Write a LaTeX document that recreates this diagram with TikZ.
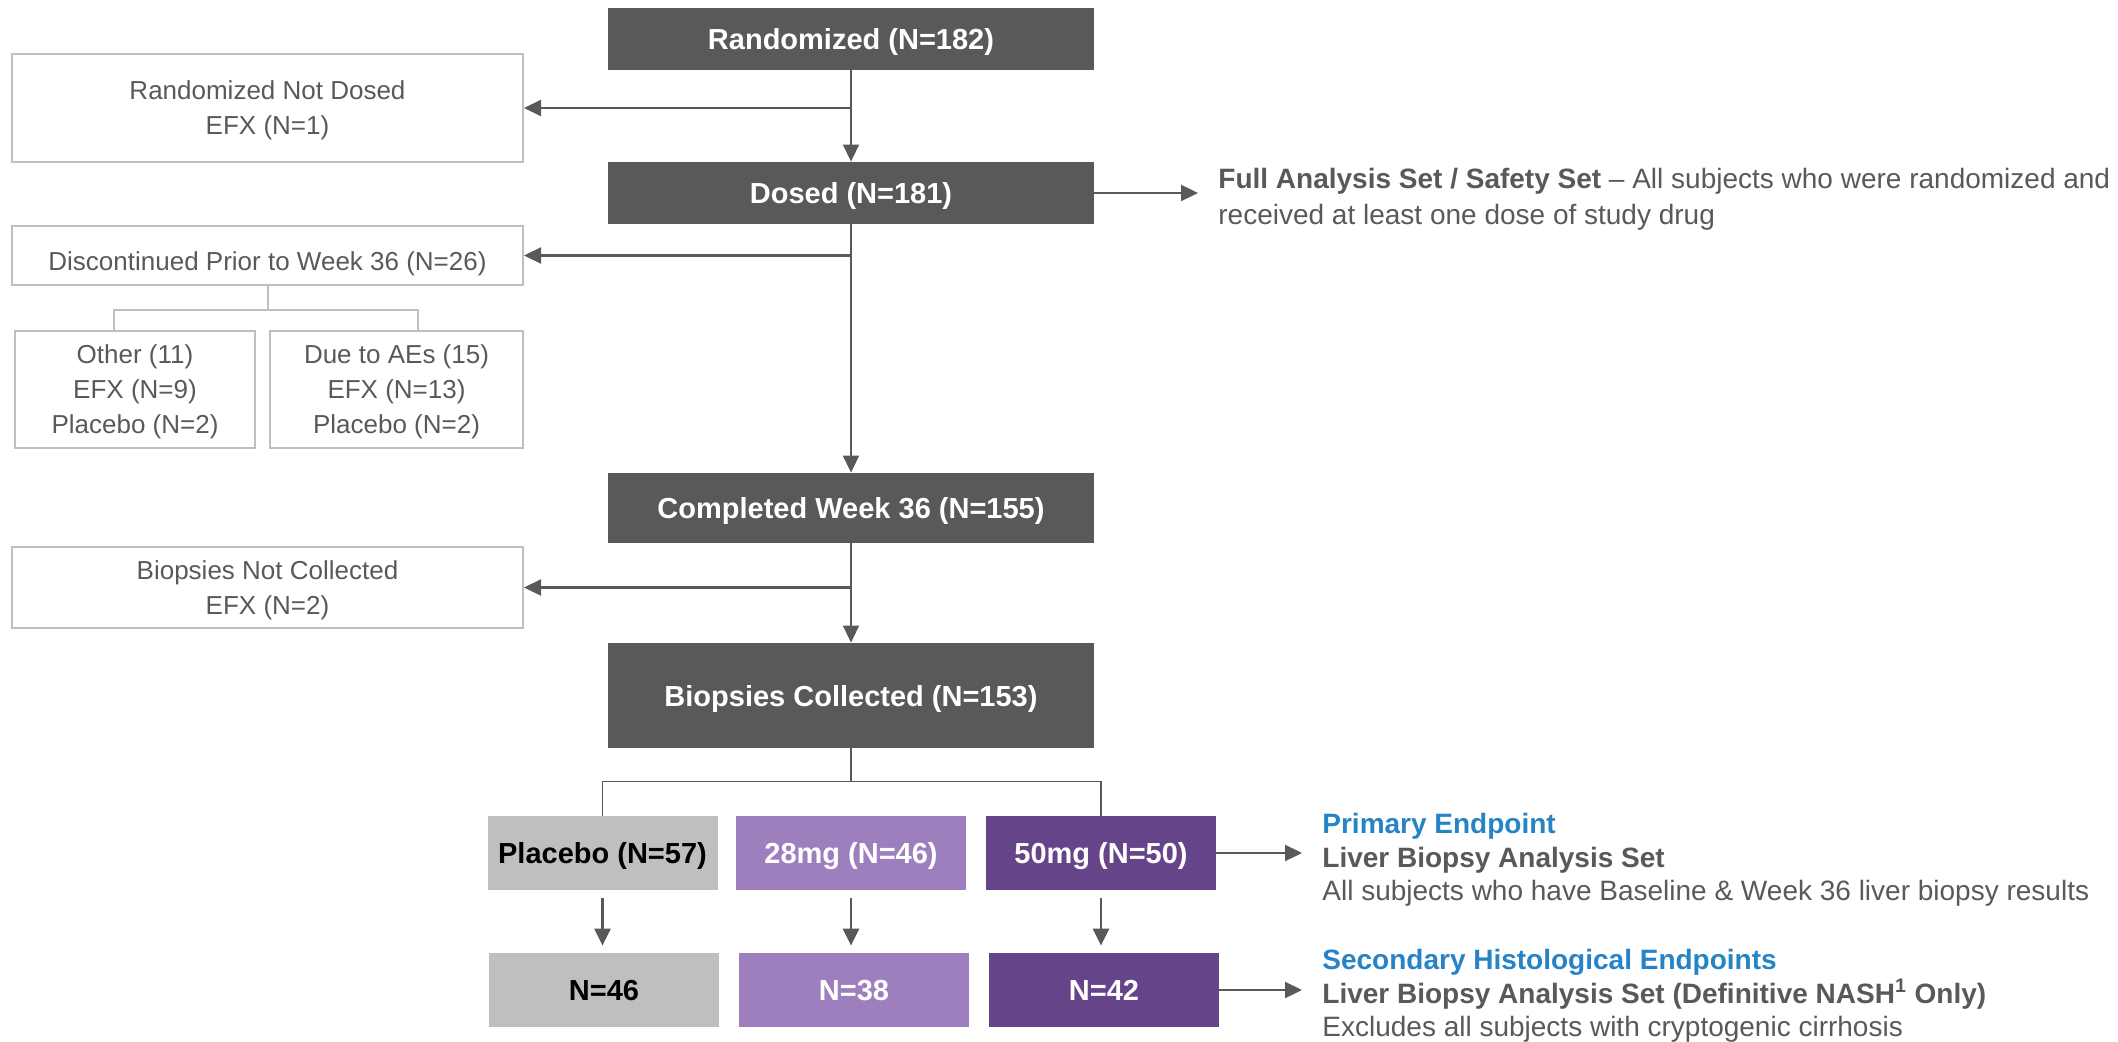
\documentclass[tikz,border=0pt]{standalone}
\usepackage{fontspec}
\setmainfont{Liberation Sans}
\usetikzlibrary{arrows.meta}
\definecolor{darkbox}{HTML}{595959}
\definecolor{lightline}{HTML}{BFBFBF}
\definecolor{pbogray}{HTML}{BFBFBF}
\definecolor{lowdose}{HTML}{9E7FBE}
\definecolor{highdose}{HTML}{66448A}
\definecolor{endpt}{HTML}{2683C6}
\begin{document}
\begin{tikzpicture}[x=0.5pt, y=-0.5pt, >={Triangle[length=8.5pt,width=8pt]},
        mainbox/.style={fill=darkbox, text=white, minimum width=243pt, inner sep=0pt, text depth=0pt,
            font=\fontsize{14.5}{17}\selectfont\bfseries},
        sidebox/.style={draw=lightline, line width=1pt, text=darkbox, align=center, inner sep=0pt,
            text depth=0pt, execute at begin node={\rule{0pt}{15.5pt}},
            font=\fontsize{13}{17.5}\selectfont},
        onelinebox/.style={sidebox, execute at begin node={}},
        armbox/.style={minimum width=115pt, minimum height=37pt, inner sep=0pt, text depth=0pt,
            font=\fontsize{14.5}{17}\selectfont\bfseries},
        flow/.style={draw=darkbox, line width=0.8pt, ->},
        exit/.style={draw=darkbox, line width=1.1pt, ->},
        settext/.style={anchor=west, align=left, text=darkbox, inner xsep=10pt, inner ysep=0pt,
            font=\fontsize{14}{16.7}\selectfont}]
    \useasboundingbox (0,0) rectangle (2118,1042);
    % main flow
    \node[mainbox, minimum height=31pt] (rand) at (851,39) {Randomized (N=182)};
    \node[mainbox, minimum height=31pt] (dosed) at (851,193) {Dosed (N=181)};
    \node[mainbox, minimum height=35pt] (compl) at (851,508) {Completed Week 36 (N=155)};
    \node[mainbox, minimum height=52.5pt] (biocoll) at (851,695.5) {Biopsies Collected (N=153)};
    % boxes on the left
    \node[sidebox, minimum width=255.5pt, minimum height=54pt] (notdosed) at (267.5,108) {Randomized Not Dosed\\EFX (N=1)};
    \node[onelinebox, minimum width=255.5pt, minimum height=29.5pt] (discont) at (267.5,255.5) {Discontinued Prior to Week 36 (N=26)};
    \node[sidebox, minimum width=120pt, minimum height=58.5pt] (other) at (135,389.5) {Other (11)\\EFX (N=9)\\Placebo (N=2)};
    \node[sidebox, minimum width=126.5pt, minimum height=58.5pt] (aes) at (396.5,389.5) {Due to AEs (15)\\EFX (N=13)\\Placebo (N=2)};
    \node[sidebox, minimum width=255.5pt, minimum height=40.5pt] (notcoll) at (267.5,587.5) {Biopsies Not Collected\\EFX (N=2)};
    % treatment arms
    \node[armbox, fill=pbogray, text=black] (pbo) at (602.5,853) {Placebo (N=57)};
    \node[armbox, fill=lowdose, text=white] (mg28) at (851,853) {28mg (N=46)};
    \node[armbox, fill=highdose, text=white] (mg50) at (1101,853) {50mg (N=50)};
    \node[armbox, fill=pbogray, text=black] (pboN) at (604,990) {N=46};
    \node[armbox, fill=lowdose, text=white] (mg28N) at (854,990) {N=38};
    \node[armbox, fill=highdose, text=white] (mg50N) at (1104,990) {N=42};
    % analysis sets
    \node[settext, font=\fontsize{14}{18}\selectfont] (fas) at (1198,199) {\textbf{Full Analysis Set / Safety Set} – All subjects who were randomized and\\received at least one dose of study drug};
    \node[settext] (prim) at (1302,860) {\textcolor{endpt}{\textbf{Primary Endpoint}}\\\textbf{Liver Biopsy Analysis Set}\\All subjects who have Baseline \& Week 36 liver biopsy results};
    \node[settext] (sec) at (1302,996) {\textcolor{endpt}{\textbf{Secondary Histological Endpoints}}\\\textbf{Liver Biopsy Analysis Set (Definitive NASH\textsuperscript{1} Only)}\\Excludes all subjects with cryptogenic cirrhosis};
    % connectors
    \draw[flow] (rand) -- (dosed);
    \draw[flow] (dosed) -- (compl);
    \draw[flow] (compl) -- (biocoll);
    \draw[exit] (notdosed.east -| rand.south) -- (notdosed.east);
    \draw[exit] (discont.east -| dosed.south) -- (discont.east);
    \draw[exit] (notcoll.east -| compl.south) -- (notcoll.east);
    \draw[exit] (dosed.east) -- (dosed.east -| fas.west);
    \draw[exit] (mg50.east) -- (mg50.east -| prim.west);
    \draw[exit] (mg50N.east) -- (mg50N.east -| sec.west);
    \coordinate (otherleg) at (114,331);
    \coordinate (aesleg) at (418,331);
    \draw[lightline, line width=1pt] (discont.south) -- ++(0,24) coordinate (dsplit);
    \draw[lightline, line width=1pt] (otherleg) |- (dsplit) -| (aesleg);
    \draw[darkbox, line width=0.8pt] (biocoll.south) -- ++(0,33) coordinate (split);
    \draw[darkbox, line width=0.8pt] (pbo.north) |- (split) -| (mg50.north);
    \draw[flow, line width=1.2pt, shorten <=4pt, shorten >=3.5pt] (pbo.south) -- (pbo.south |- pboN.north);
    \draw[flow, line width=1.2pt, shorten <=4pt, shorten >=3.5pt] (mg28.south) -- (mg28.south |- mg28N.north);
    \draw[flow, line width=1.2pt, shorten <=4pt, shorten >=3.5pt] (mg50.south) -- (mg50.south |- mg50N.north);
\end{tikzpicture}
\end{document}
